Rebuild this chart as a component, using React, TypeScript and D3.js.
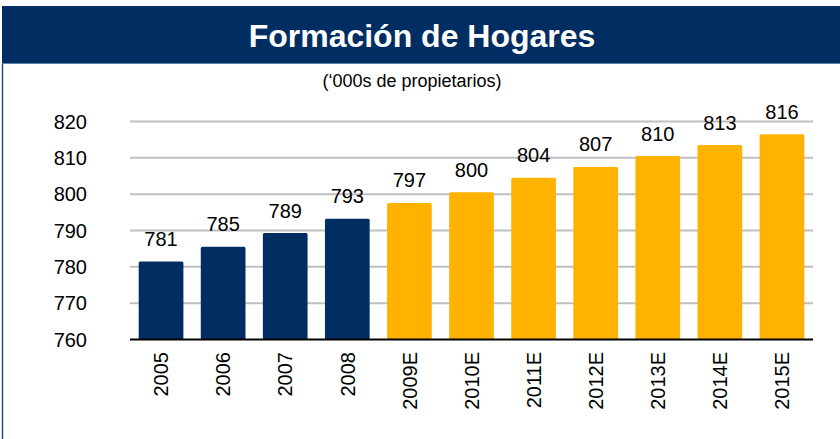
import React from "react";
import * as d3 from "d3";

const categories = ["2005", "2006", "2007", "2008", "2009E", "2010E", "2011E", "2012E", "2013E", "2014E", "2015E"];
const values = [781.5, 785.5, 789.3, 793.2, 797.6, 800.5, 804.5, 807.5, 810.5, 813.5, 816.5];
const valueLabels = ["781", "785", "789", "793", "797", "800", "804", "807", "810", "813", "816"];
const estimated = [false, false, false, false, true, true, true, true, true, true, true];
const yTicks = [760, 770, 780, 790, 800, 810, 820];

const W = 840, H = 439;
const NAVY = "#002D62";
const GOLD = "#FFB300";
const FONT = "Liberation Sans, Arial, sans-serif";

export default function App() {
  const x = d3.scaleBand<string>().domain(categories).range([130, 813]).paddingInner(0.28).paddingOuter(0.14);
  const y = d3.scaleLinear().domain([760, 820]).range([339.5, 121.5]);
  return (
    <svg width={W} height={H} style={{ position: "absolute", left: 0, top: 0, background: "#fff" }}>
      <rect x={2} y={6} width={838} height={58} fill="#002D62" />
      <line x1={2} x2={840} y1={63.5} y2={63.5} stroke="#5b7fa6" strokeWidth={1} />
      <line x1={2.5} x2={2.5} y1={64} y2={439} stroke="#1f4e8c" strokeWidth={1.5} />
      <text x={422} y={47} textAnchor="middle" fill="#fff" fontFamily={FONT} fontWeight="bold" fontSize={32}>
        Formación de Hogares
      </text>
      <text x={412} y={87} textAnchor="middle" fill="#000" fontFamily={FONT} fontSize={18}>
        (‘000s de propietarios)
      </text>
      {yTicks.map((t) => (
        <g key={t}>
          {t !== 760 && (
            <line x1={130} x2={813} y1={y(t)} y2={y(t)} stroke="#c0c0c0" strokeWidth={2} />
          )}
          <text x={87} y={y(t)} dy="0.36em" textAnchor="end" fontFamily={FONT} fontSize={20} fill="#000">
            {t}
          </text>
        </g>
      ))}
      {categories.map((c, i) => (
        <g key={c}>
          <rect
            x={x(c)}
            y={y(values[i])}
            width={x.bandwidth()}
            height={y(760) - y(values[i])}
            rx={1.5}
            fill={estimated[i] ? GOLD : NAVY}
          />
          <text
            x={(x(c) as number) + x.bandwidth() / 2}
            y={y(values[i]) - 15.5}
            textAnchor="middle"
            fontFamily={FONT}
            fontSize={20}
            fill="#000"
          >
            {valueLabels[i]}
          </text>
          <text
            transform={`translate(${(x(c) as number) + x.bandwidth() / 2},${352}) rotate(-90)`}
            dy="0.36em"
            textAnchor="end"
            fontFamily={FONT}
            fontSize={20}
            fill="#000"
          >
            {c}
          </text>
        </g>
      ))}
      <line x1={130} x2={813} y1={y(760)} y2={y(760)} stroke="#000" strokeWidth={2} />
    </svg>
  );
}
